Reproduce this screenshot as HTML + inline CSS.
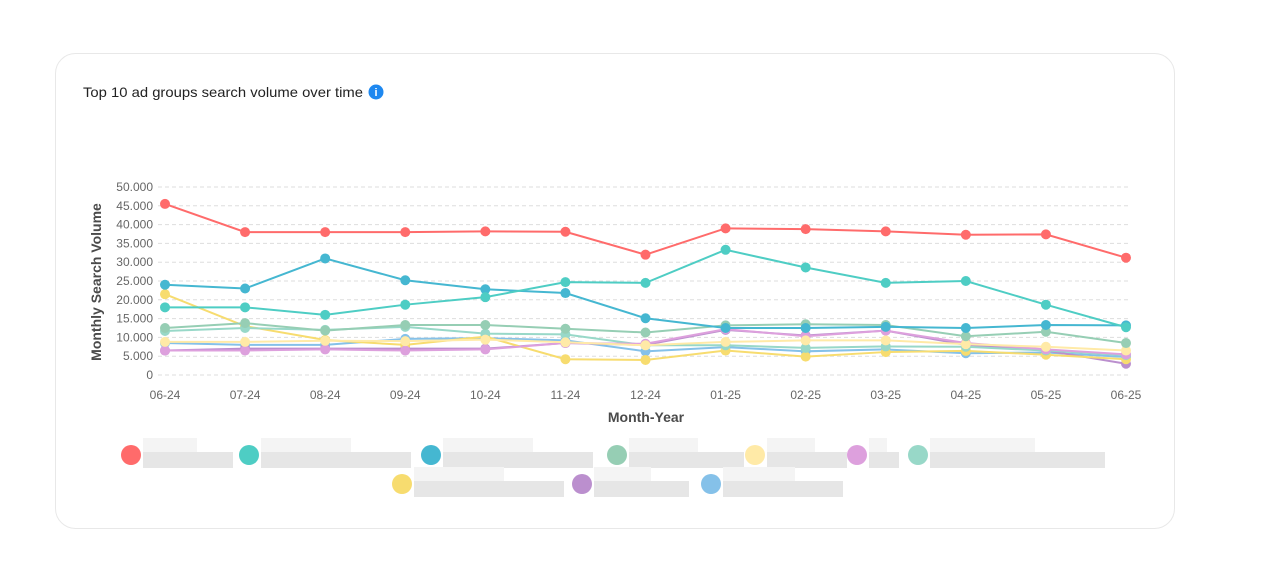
<!DOCTYPE html>
<html><head><meta charset="utf-8"><style>
body{margin:0;background:#fff;font-family:"Liberation Sans",sans-serif;}
#wrap{position:relative;width:1263px;height:566px;overflow:hidden;}
</style></head><body>
<div id="wrap">
<svg id="svg" width="1263" height="566" xmlns="http://www.w3.org/2000/svg">
<rect x="55.5" y="53.5" width="1119" height="475" rx="20" fill="#fff" stroke="#e8e8e8"/>
<text x="83" y="97" font-size="14" fill="#222" textLength="280" lengthAdjust="spacingAndGlyphs">Top 10 ad groups search volume over time</text>
<g><circle cx="376" cy="92" r="7.5" fill="#1e88f0"/><text x="376" y="96" font-size="11" font-weight="bold" fill="#fff" text-anchor="middle">i</text></g>
<g id="grid"></g><g id="series"></g><g id="legend"></g>
<text transform="translate(101,282) rotate(-90)" font-size="14" font-weight="bold" fill="#4a4a4a" text-anchor="middle">Monthly Search Volume</text>
<text x="646" y="422" font-size="14" font-weight="bold" fill="#4a4a4a" text-anchor="middle">Month-Year</text>
</svg>
</div>
<script>
const categories=["06-24","07-24","08-24","09-24","10-24","11-24","12-24","01-25","02-25","03-25","04-25","05-25","06-25"];
const yTicks=[0,5000,10000,15000,20000,25000,30000,35000,40000,45000,50000];
const yTickLabels=["0","5.000","10.000","15.000","20.000","25.000","30.000","35.000","40.000","45.000","50.000"];
const colors=["#ff6b6b","#4ecdc4","#45b7d1","#96ceb4","#ffeaa7","#dda0dd","#98d8c8","#f7dc6f","#bb8fce","#85c1e9"];
const s1=[45500,38000,38000,38000,38200,38100,32000,39000,38800,38200,37300,37400,31200];
const s2=[18000,18000,16000,18700,20700,24700,24500,33300,28600,24500,25000,18700,12700];
const s3=[24000,23000,31000,25200,22800,21800,15100,12500,12500,12800,12500,13300,13200];
const s4=[12500,13800,11800,13300,13300,12300,11300,13200,13500,13300,10300,11500,8500];
const s5=[8800,8800,9100,9000,9400,8700,7900,8800,9200,9200,8200,7500,6500];
const s6=[6500,6500,6800,6500,6800,8500,8300,12200,10300,11800,8500,6800,5500];
const s7=[11700,12500,12000,12800,11000,10800,7900,7900,7200,7600,7500,6500,5300];
const s8=[21500,13000,9300,8000,10200,4200,4000,6500,4900,6100,6400,5400,4200];
const s9=[6500,7000,7000,7000,7000,8500,8000,12000,10500,11800,8000,6500,3000];
const s10=[8500,8000,8000,9600,9800,9200,6300,7400,6300,6800,5800,6000,4800];
const allSeries=[s1,s2,s3,s4,s5,s6,s7,s8,s9,s10];
const NS="http://www.w3.org/2000/svg";
const x0=165,x1=1126,yb=375,yt=187;
const xs=i=>x0+(x1-x0)*i/(categories.length-1);
const ys=v=>yb-(yb-yt)*v/50000;
function mk(t,a,p){const e=document.createElementNS(NS,t);for(const k in a)e.setAttribute(k,a[k]);p.appendChild(e);return e;}
const grid=document.getElementById('grid');
yTicks.forEach((v,i)=>{
 const l=mk('line',{x1:158,x2:1128,y1:ys(v),y2:ys(v),stroke:'#ddd','stroke-dasharray':'4 3'},grid);
 
 
 const t=mk('text',{x:153,y:ys(v)+4,'font-size':12,fill:'#666','text-anchor':'end'},grid);
 t.textContent=yTickLabels[i];
 
 
});
categories.forEach((c,i)=>{
 const t=mk('text',{x:xs(i),y:399,'font-size':12,fill:'#666','text-anchor':'middle'},grid);
 t.textContent=c;
 
 
});
const sg=document.getElementById('series');
for(let k=allSeries.length-1;k>=0;k--){
 const d=allSeries[k];
 const g=mk('g',{},sg);
 
 
 const p=mk('polyline',{points:d.map((v,i)=>xs(i)+','+ys(v)).join(' '),fill:'none',stroke:colors[k],'stroke-width':2},g);
 
 
 d.forEach((v,i)=>{
  const c=mk('circle',{cx:xs(i),cy:ys(v),r:5,fill:colors[k]},g);
  
  
 });
}
const lg=document.getElementById('legend');
const legPos=[[131,455,90],[249,455,150],[431,455,150],[617,455,115],[755,455,80],[857,455,30],[918,455,175],[402,484,150],[582,484,95],[711,484,120]];
legPos.forEach((p,k)=>{
 const g=mk('g',{},lg);
 
 
 mk('circle',{cx:p[0],cy:p[1],r:10,fill:colors[k]},g);
 mk('rect',{x:p[0]+12,y:p[1]-3,width:p[2],height:16,fill:'#e6e6e6'},g);
 mk('rect',{x:p[0]+12,y:p[1]-17,width:p[2]*0.6,height:14,fill:'#f4f4f4'},g);
});
</script>
</body></html>
